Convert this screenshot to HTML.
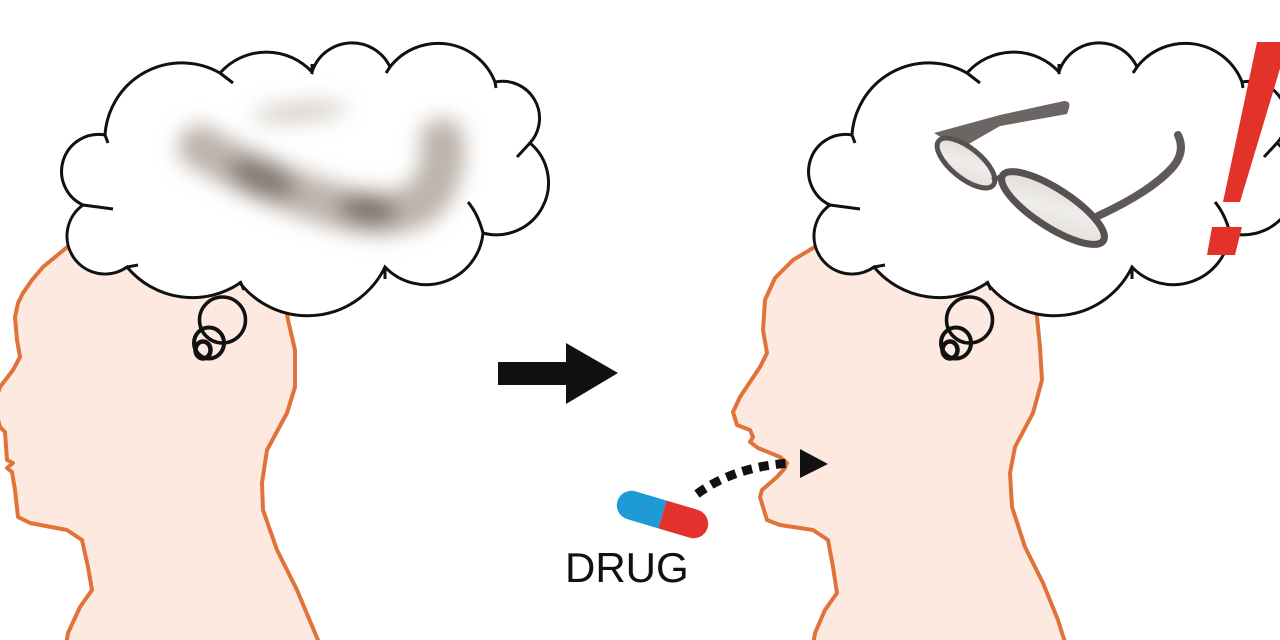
<!DOCTYPE html>
<html><head><meta charset="utf-8"><style>
html,body{margin:0;padding:0;background:#fff;}
svg{display:block;}
</style></head><body>
<svg width="1280" height="640" viewBox="0 0 1280 640" xmlns="http://www.w3.org/2000/svg">
<defs>
<filter id="bl" x="-50%" y="-50%" width="200%" height="200%"><feGaussianBlur stdDeviation="10"/></filter>
<clipPath id="pillclip"><rect x="-47" y="-14.5" width="94" height="29" rx="14.5"/></clipPath>
<linearGradient id="lens" x1="0" y1="0" x2="1" y2="1">
<stop offset="0" stop-color="#d9d5d2"/><stop offset="0.5" stop-color="#efedeb"/><stop offset="1" stop-color="#dedad7"/>
</linearGradient>
<g id="cloud">
<path d="M83,205 A37,37 0 0 1 105,135 A77,77 0 0 1 220,73 A62,62 0 0 1 312,72 A42,42 0 0 1 390,67 A61,61 0 0 1 495,82 A37,37 0 0 1 530,143 A52,52 0 0 1 483,233 A57,57 0 0 1 385,267 A86,86 0 0 1 240,283 A85,85 0 0 1 127,267 A38,38 0 0 1 83,205 Z" fill="#fff" stroke="#111" stroke-width="3"/>
<g stroke="#111" stroke-width="3" fill="none" stroke-linecap="butt">
<path d="M105,135 L108,143"/>
<path d="M220,73 L233,83"/>
<path d="M312,64 L312,74"/>
<path d="M390,67 L386,73"/>
<path d="M495,82 L496,88"/>
<path d="M530,143 L517,157"/>
<path d="M483,233 Q478,214 468,202"/>
<path d="M385,267 L385,279"/>
<path d="M240,281 L244,290"/>
<path d="M127,267 L138,265"/>
<path d="M83,205 L113,209"/>
</g>
<g stroke="#111" fill="none">
<circle cx="222.5" cy="320" r="23" stroke-width="3.5"/>
<ellipse cx="209" cy="343" rx="15" ry="15.5" stroke-width="4"/>
<ellipse cx="203" cy="350" rx="7.5" ry="8.5" stroke-width="4.5"/>
</g>
</g>
</defs>

<!-- LEFT HEAD -->
<path d="M85,225 L72,243 L60,253 L43,267 L32,280 L23,293 L18,303 L15,317 L17,340 L20,357 L13,370 L0,387 L-6,405 L0,427 L5,432 L7,460 L13,463 L7,468 L12,472 L15,490 L18,517 L30,523 L67,530 L82,540 L88,567 L92,590 L80,607 L68,633 L66,645 L320,645 L315,633 L297,590 L277,550 L263,510 L262,483 L267,450 L287,413 L295,387 L295,350 L288,320 L282,280 L200,240 Z" fill="#fde9e0"/>
<path d="M85,225 L72,243 L60,253 L43,267 L32,280 L23,293 L18,303 L15,317 L17,340 L20,357 L13,370 L0,387 L-6,405 L0,427 L5,432 L7,460 L13,463 L7,468 L12,472 L15,490 L18,517 L30,523 L67,530 L82,540 L88,567 L92,590 L80,607 L68,633 L66,645" fill="none" stroke="#e0733a" stroke-width="4" stroke-linejoin="round"/>
<path d="M320,645 L315,633 L297,590 L277,550 L263,510 L262,483 L267,450 L287,413 L295,387 L295,350 L288,320 L284,295" fill="none" stroke="#e0733a" stroke-width="4" stroke-linejoin="round"/>

<!-- RIGHT HEAD -->
<path d="M832,225 L818,245 L793,260 L775,278 L765,300 L763,330 L767,353 L760,367 L740,397 L733,412 L737,425 L750,430 L753,437 L750,442 L758,448 L780,457 L787,463 L785,468 L777,477 L762,490 L760,497 L763,507 L767,520 L780,525 L813,530 L828,540 L833,567 L837,593 L825,610 L815,633 L813,645 L1066,645 L1062,633 L1058,620 L1043,583 L1025,547 L1012,507 L1010,473 L1015,447 L1033,413 L1042,380 L1040,347 L1037,317 L1030,270 L950,240 Z" fill="#fde9e0"/>
<path d="M832,225 L818,245 L793,260 L775,278 L765,300 L763,330 L767,353 L760,367 L740,397 L733,412 L737,425 L750,430 L753,437 L750,442 L758,448 L780,457 L787,463 L785,468 L777,477 L762,490 L760,497 L763,507 L767,520 L780,525 L813,530 L828,540 L833,567 L837,593 L825,610 L815,633 L813,645" fill="none" stroke="#e0733a" stroke-width="4" stroke-linejoin="round"/>
<path d="M1066,645 L1062,633 L1058,620 L1043,583 L1025,547 L1012,507 L1010,473 L1015,447 L1033,413 L1042,380 L1040,347 L1037,317 L1033,295" fill="none" stroke="#e0733a" stroke-width="4" stroke-linejoin="round"/>

<!-- CLOUDS -->
<use href="#cloud"/>
<use href="#cloud" transform="translate(747,0)"/>

<!-- BLURRED GLASSES -->
<g filter="url(#bl)">
<path d="M200,147 Q260,182 330,204 Q392,224 424,200 Q446,176 442,140" stroke="#bdb4ac" stroke-width="44" fill="none" stroke-linecap="round"/>
<ellipse cx="262" cy="178" rx="36" ry="17" transform="rotate(22 262 178)" fill="#857a72"/>
<ellipse cx="368" cy="210" rx="30" ry="15" transform="rotate(8 368 210)" fill="#7e736b"/>
<ellipse cx="300" cy="112" rx="48" ry="10" transform="rotate(-5 300 112)" fill="#d6d0ca"/>
</g>

<!-- SHARP GLASSES -->
<g>
<path d="M934,133 L1000,115 L1064,101 Q1071,101 1069,108 L1067,114 L1000,126 L960,149 Z" fill="#6b6564"/>
<path d="M1098,216 Q1150,192 1172,168 Q1186,152 1178,135" stroke="#5f5a59" stroke-width="8" fill="none" stroke-linecap="round"/>
<ellipse cx="966" cy="163" rx="35" ry="15" transform="rotate(39 966 163)" fill="url(#lens)" stroke="#575151" stroke-width="5"/>
<ellipse cx="1053" cy="208" rx="60" ry="19" transform="rotate(33 1053 208)" fill="url(#lens)" stroke="#575151" stroke-width="7"/>
<path d="M992,180 L1004,176" stroke="#575151" stroke-width="5"/>
</g>

<!-- EXCLAMATION -->
<polygon points="1257,42 1288,42 1240,202 1223,202" fill="#e2322a"/>
<polygon points="1212,227 1242,227 1235,255 1207,255" fill="#e2322a"/>

<!-- BIG ARROW -->
<polygon points="498,362 566,362 566,343 618,373 566,404 566,385 498,385" fill="#111"/>

<!-- PILL -->
<g transform="translate(662.5,514.5) rotate(16.5)">
<g clip-path="url(#pillclip)">
<rect x="-48" y="-16" width="48" height="32" fill="#1e9bd7"/>
<rect x="0" y="-16" width="48" height="32" fill="#e3312d"/>
</g>
</g>

<!-- DOTTED ARROW -->
<path d="M697,494 Q735,466 792,463" fill="none" stroke="#111" stroke-width="9" stroke-dasharray="10 7"/>
<polygon points="800,449 828,464 800,478" fill="#111"/>

<!-- LABEL -->
<text x="565" y="582" font-family="Liberation Sans, Arial, sans-serif" font-size="42" fill="#111">DRUG</text>
</svg>
</body></html>
